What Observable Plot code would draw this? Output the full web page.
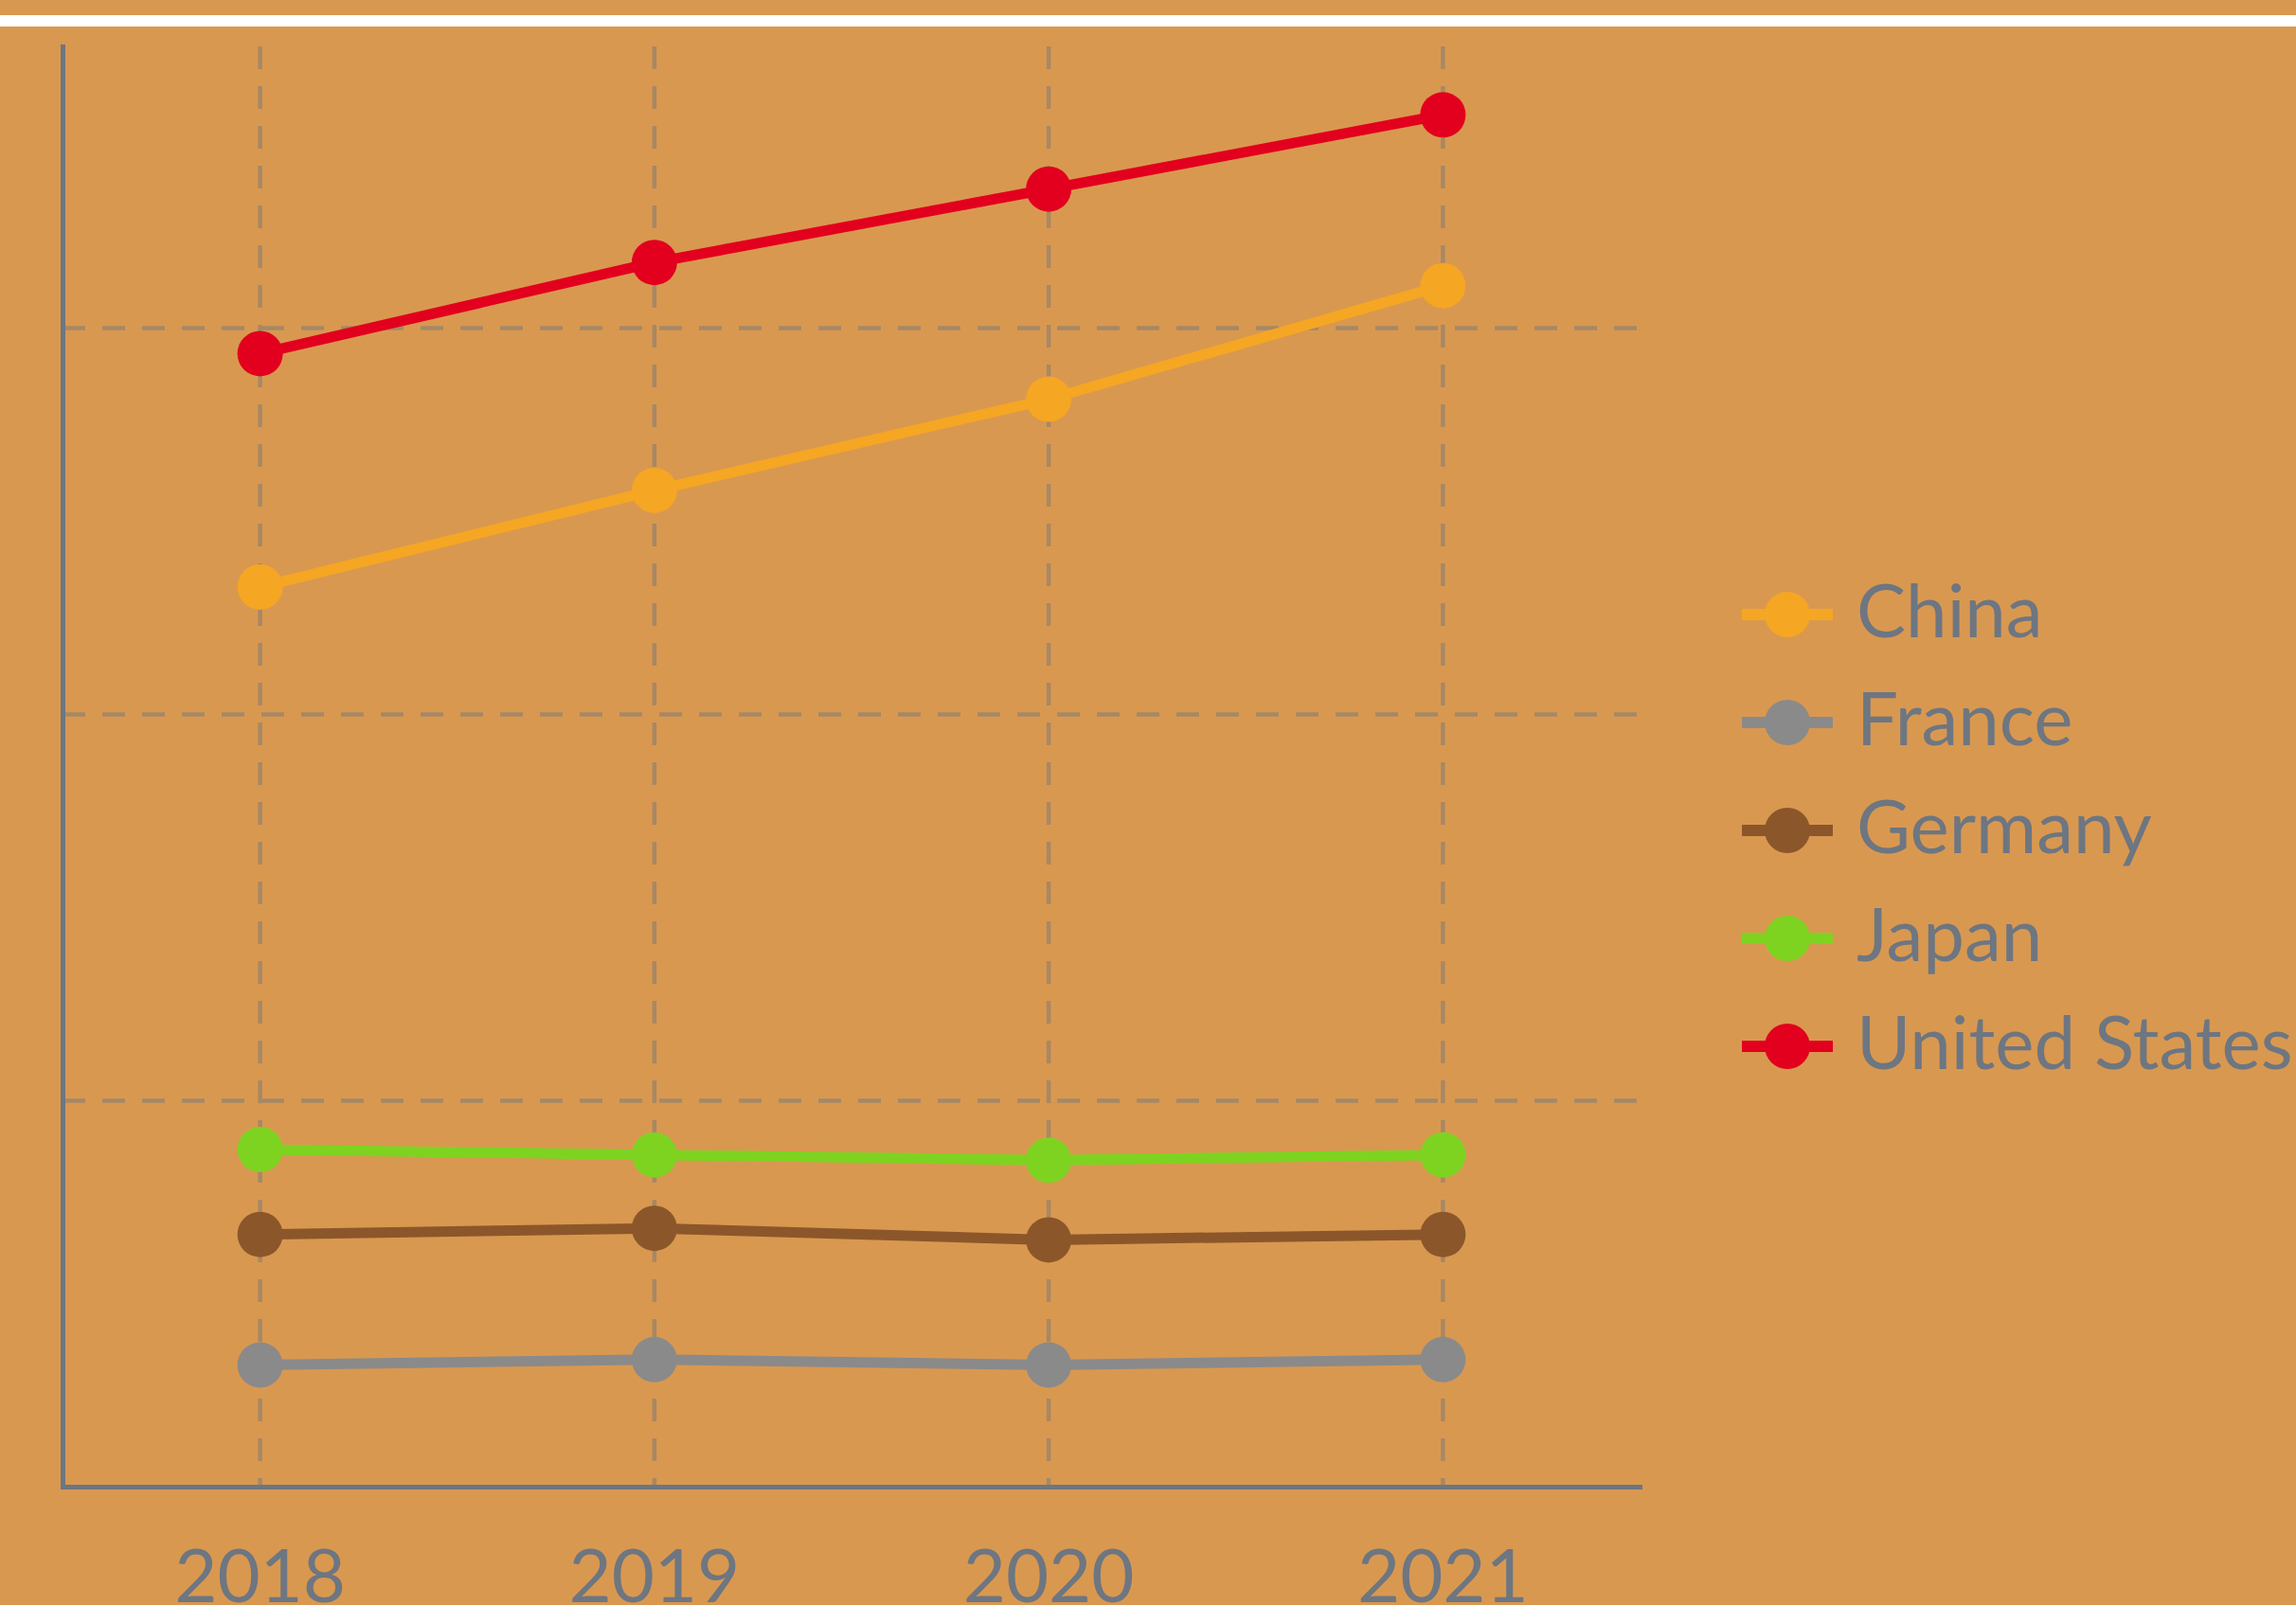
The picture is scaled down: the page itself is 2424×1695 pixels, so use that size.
<!DOCTYPE html>
<html>
<head>
<meta charset="utf-8">
<script src="https://cdn.jsdelivr.net/npm/d3@7"></script>
<script src="https://cdn.jsdelivr.net/npm/@observablehq/plot@0.6"></script>
<style>
  html, body { margin: 0; padding: 0; background: #D99850; }
  body { width: 2424px; height: 1695px; overflow: hidden; position: relative; font-family: Lato, "Open Sans", sans-serif; }
  #band { position: absolute; left: 0; top: 16px; width: 2424px; height: 12px; background: #ffffff; }
  #chart { position: absolute; left: 0; top: 0; }
  #legend { position: absolute; left: 1839px; top: 0; }
  .row { position: absolute; left: 0; height: 114px; display: flex; align-items: center; white-space: nowrap; }
  .row span { font-size: 78px; line-height: 1; color: #6D7681; margin-left: 25px; margin-top: -12px; }
</style>
</head>
<body>
<div id="band"></div>
<div id="chart"></div>
<div id="legend"></div>
<script>
const years = [2018, 2019, 2020, 2021];
const countries = ["China", "France", "Germany", "Japan", "United States"];
const colors = ["#F5A623", "#8A8A8A", "#8B572A", "#7ED321", "#E2001E"];
const china = [11.65, 12.90, 14.08, 15.55];
const france = [1.58, 1.65, 1.58, 1.65];
const germany = [3.27, 3.35, 3.20, 3.27];
const japan = [4.37, 4.30, 4.23, 4.30];
const unitedStates = [14.67, 15.85, 16.80, 17.76];
const gridValues = [5, 10, 15];

const seriesList = [china, france, germany, japan, unitedStates];
const data = [];
countries.forEach((c, i) => {
  years.forEach((y, j) => data.push({country: c, year: y, value: seriesList[i][j]}));
});

const axisColor = "#6D7681";
const gridColor = "#A78865";

const plot = Plot.plot({
  width: 2424,
  height: 1695,
  marginLeft: 66,
  marginRight: 693,
  marginTop: 49,
  marginBottom: 125,
  style: {background: "transparent", fontFamily: "Lato, sans-serif", overflow: "visible"},
  x: {type: "linear", domain: [2017.5, 2021.5]},
  y: {domain: [0, 18.64]},
  color: {domain: countries, range: colors},
  marks: [
    Plot.ruleY(gridValues, {stroke: gridColor, strokeWidth: 4.5, strokeDasharray: "24,18"}),
    Plot.ruleX(years, {stroke: gridColor, strokeWidth: 4.5, strokeDasharray: "24,18"}),
    Plot.frame({anchor: "left", stroke: axisColor, strokeWidth: 5}),
    Plot.frame({anchor: "bottom", stroke: axisColor, strokeWidth: 5}),
    Plot.axisX(years, {tickSize: 0, tickPadding: 66, tickFormat: d => String(d), fontSize: 78, fill: axisColor, label: null}),
    Plot.axisY({ticks: [], label: null}),
    Plot.line(data, {x: "year", y: "value", z: "country", stroke: "country", strokeWidth: 11, strokeLinejoin: "round"}),
    Plot.dot(data, {x: "year", y: "value", fill: "country", r: 24})
  ]
});
document.getElementById("chart").appendChild(plot);

const legend = document.getElementById("legend");
const rowCenters0 = 649, rowStep = 114;
countries.forEach((c, i) => {
  const row = document.createElement("div");
  row.className = "row";
  row.style.top = (rowCenters0 + i * rowStep - 57) + "px";
  row.innerHTML = `<svg width="96" height="50" viewBox="0 0 96 50"><line x1="0" x2="96" y1="25" y2="25" stroke="${colors[i]}" stroke-width="12"/><circle cx="48" cy="25" r="24" fill="${colors[i]}"/></svg><span>${c}</span>`;
  legend.appendChild(row);
});
</script>
</body>
</html>
